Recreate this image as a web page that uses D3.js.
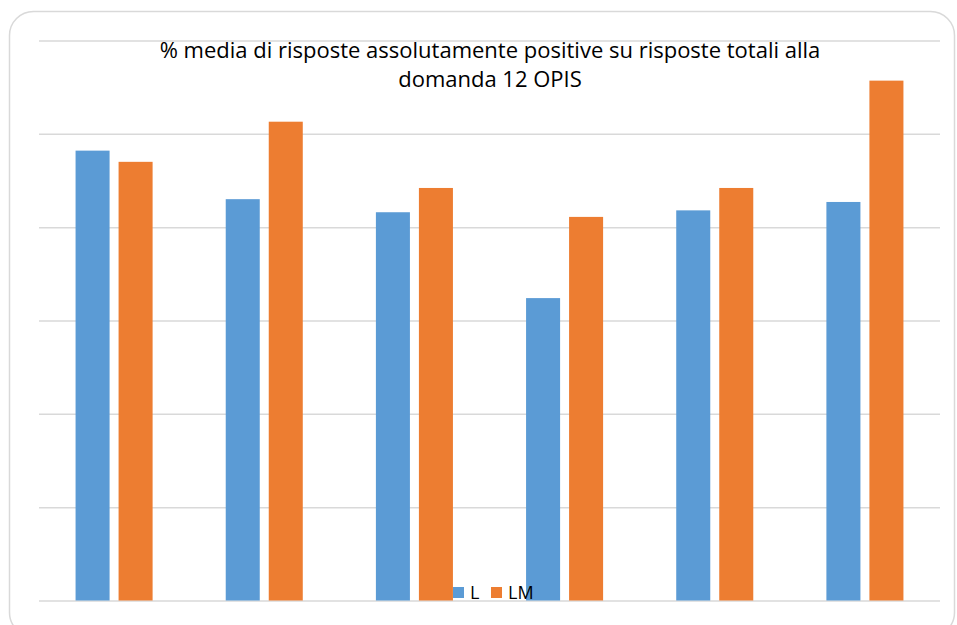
<!DOCTYPE html>
<html>
<head>
<meta charset="utf-8">
<script src="https://cdn.jsdelivr.net/npm/d3@7"></script>
<style>
  html, body { margin: 0; padding: 0; background: #ffffff; }
  svg { display: block; }
</style>
</head>
<body>
<svg id="chart" width="957" height="625"></svg>
<script>
// ---- Data ----
const categories = ["1", "2", "3", "4", "5", "6"];
const seriesNames = ["L", "LM"];
const valuesL  = [0.482, 0.430, 0.416, 0.324, 0.418, 0.427];
const valuesLM = [0.470, 0.513, 0.442, 0.411, 0.442, 0.557];
const yTicks = [0, 0.1, 0.2, 0.3, 0.4, 0.5, 0.6];
const titleLines = ["% media di risposte assolutamente positive su risposte totali alla", "domanda 12 OPIS"];
const colors = ["#5B9BD5", "#ED7D31"];

const rows = categories.map((c, i) => ({ cat: c, vals: [valuesL[i], valuesLM[i]] }));

const svg = d3.select("#chart");
const plot = { left: 39, right: 940, top: 40.5, bottom: 600.5 };
const FONT = "'Open Sans', 'Noto Sans', sans-serif";

// chart border
svg.append("rect")
  .attr("x", 9.5).attr("y", 11.5)
  .attr("width", 945).attr("height", 625)
  .attr("rx", 24).attr("ry", 24)
  .attr("fill", "#ffffff")
  .attr("stroke", "#d9d9d9").attr("stroke-width", 1.5);

const y = d3.scaleLinear().domain([0, 0.6]).range([plot.bottom, plot.top]);
const x0 = d3.scaleBand().domain(categories).range([plot.left, plot.right])
  .paddingInner(0.487).paddingOuter(0.2435);
const x1 = d3.scaleBand().domain(seriesNames).range([0, x0.bandwidth()])
  .paddingInner(0.209).paddingOuter(0);

// gridlines
const yAxis = d3.axisLeft(y).tickValues(yTicks).tickSize(-(plot.right - plot.left)).tickFormat("");
const gAxis = svg.append("g").attr("transform", `translate(${plot.left},0)`).call(yAxis);
gAxis.select(".domain").remove();
gAxis.selectAll(".tick line").attr("stroke", "#d9d9d9").attr("stroke-width", 1.5);

// bars
const groups = svg.append("g").selectAll("g").data(rows).join("g")
  .attr("transform", d => `translate(${x0(d.cat)},0)`);
groups.selectAll("rect").data(d => d.vals.map((v, k) => ({ v, k })))
  .join("rect")
  .attr("x", d => x1(seriesNames[d.k]))
  .attr("width", x1.bandwidth())
  .attr("y", d => y(d.v))
  .attr("height", d => y(0) - y(d.v))
  .attr("fill", d => colors[d.k]);

// title
const title = svg.append("text")
  .attr("text-anchor", "middle")
  .attr("font-family", FONT)
  .attr("font-size", 22)
  .attr("fill", "#000000");
titleLines.forEach((t, i) => {
  title.append("tspan").attr("x", 490).attr("y", 58 + i * 29).text(t);
});

// legend
const legend = svg.append("g");
const legX = [453, 491];
seriesNames.forEach((s, i) => {
  legend.append("rect").attr("x", legX[i]).attr("y", 587).attr("width", 11).attr("height", 11).attr("fill", colors[i]);
  legend.append("text").attr("x", legX[i] + 17).attr("y", 599)
    .attr("font-family", FONT)
    .attr("font-size", 18).attr("fill", "#000000").text(s);
});
</script>
</body>
</html>
